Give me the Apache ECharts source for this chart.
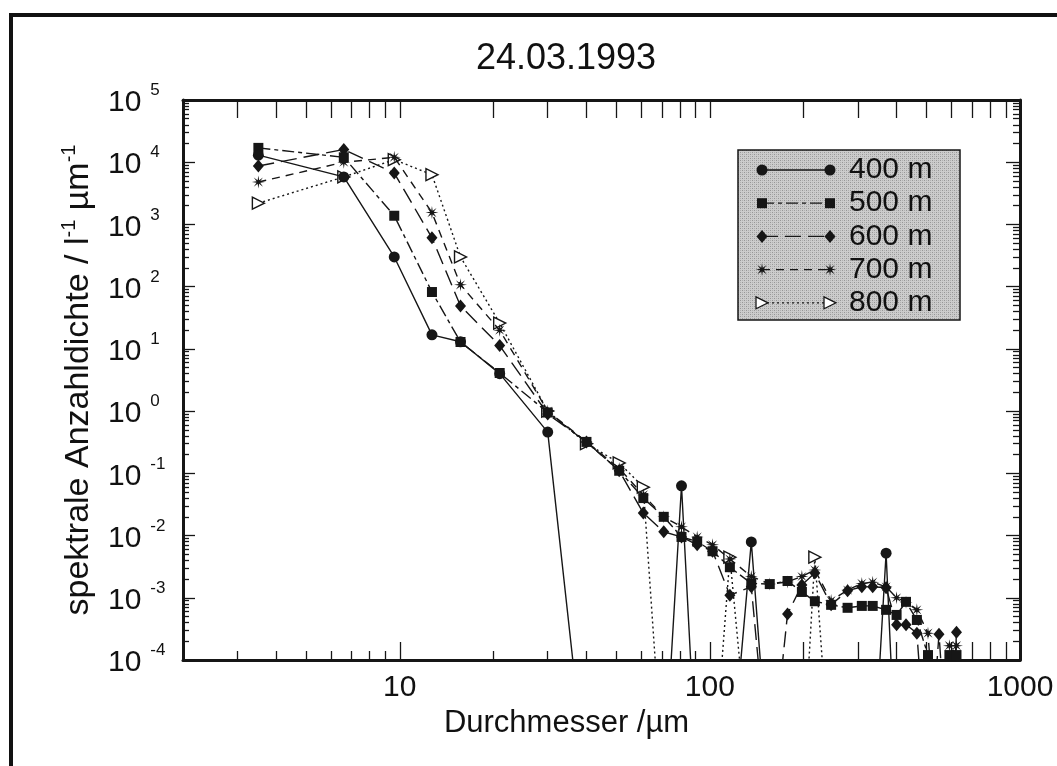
<!DOCTYPE html>
<html>
<head>
<meta charset="utf-8">
<script src="https://cdn.jsdelivr.net/npm/echarts@6/dist/echarts.min.js"></script>
<style>
  html, body { margin: 0; padding: 0; background: #ffffff; }
  #chart { width: 1057px; height: 766px; }
</style>
</head>
<body>
<div id="chart"></div>
<script>
// Particle diameter bins (µm)
const diameters = [3.5, 6.6, 9.6, 12.7, 15.7, 21, 30, 40, 51, 61, 71, 81, 91, 102, 116, 136,
                   156, 178, 198, 218, 246, 278, 309, 335, 370, 400, 429, 465, 505, 548, 592, 624];

// Spectral number density (l^-1 µm^-1) per flight level; 1e-6 marks empty bins
const n400 = [1.3e4, 5.8e3, 300, 16.8, 13, 4.0, 0.46, 1e-6, 1e-6, 1e-6, 1e-6, 0.063, 1e-6, 1e-6, 1e-6, 0.0079,
              1e-6, 1e-6, 1e-6, 1e-6, 1e-6, 1e-6, 1e-6, 1e-6, 0.0052, 1e-6, 1e-6, 1e-6, 1e-6, 1e-6, 1e-6, 1e-6];
const n500 = [1.7e4, 1.2e4, 1380, 82, 12.9, 4.1, 0.95, 0.32, 0.11, 0.040, 0.020, 0.0095, 0.0080, 0.0056, 0.0031, 0.0017,
              0.00166, 0.00186, 0.00124, 0.00088, 0.00077, 0.00069, 0.00074, 0.00074, 0.00064, 0.00053, 0.00086, 0.00044, 1.2e-4, 1e-6, 1.2e-4, 1.2e-4];
const n600 = [8.7e3, 1.6e4, 6.7e3, 610, 49, 11.3, 0.9, 0.32, 0.11, 0.023, 0.0115, 0.0095, 0.0071, 0.0056, 0.0011, 0.0015,
              1e-6, 0.00055, 0.0016, 0.0025, 0.00077, 0.0013, 0.0015, 0.0015, 0.00145, 0.00037, 0.00037, 0.00027, 1e-6, 0.00026, 1e-6, 0.00028];
const n700 = [4.8e3, 1.0e4, 1.2e4, 1.55e3, 107, 20, 1.0, 0.32, 0.12, 0.045, 0.020, 0.0138, 0.0095, 0.0071, 0.0042, 0.0022,
              0.00166, 0.0018, 0.0022, 0.0028, 0.0009, 0.00133, 0.0017, 0.00178, 0.0015, 0.0010, 0.00085, 0.00064, 0.00027, 1e-6, 0.00017, 0.00017];
const n800 = [2.2e3, 5.8e3, 1.1e4, 6.3e3, 300, 26, 1.0, 0.30, 0.147, 0.060, 1e-6, 1e-6, 1e-6, 1e-6, 0.0045, 1e-6,
              1e-6, 1e-6, 1e-6, 0.0045, 1e-6, 1e-6, 1e-6, 1e-6, 1e-6, 1e-6, 1e-6, 1e-6, 1e-6, 1e-6, 1e-6, 1e-6];

const seriesNames = ['400 m', '500 m', '600 m', '700 m', '800 m'];
const xTickLabels = [10, 100, 1000];
const yTickLabels = [1e-4, 1e-3, 1e-2, 1e-1, 1, 10, 100, 1e3, 1e4, 1e5];
const xMinorShort = [3, 4, 5, 6, 7, 8, 9, 20, 30, 40, 50, 60, 70, 80, 90];
const xMinorLong = [200, 300, 400, 500, 600, 700, 800, 900];
const xTopTicks = [3, 4, 5, 6, 7, 8, 9, 10, 20, 30, 40, 50, 60, 70, 80, 90, 100,
                   200, 300, 400, 500, 600, 700, 800, 900];
const yMinorTicks = [];
for (let e = -4; e < 5; e++) {
  for (let m = 2; m <= 9; m++) yMinorTicks.push(Number((m * Math.pow(10, e)).toPrecision(3)));
}

const INK = '#161616';
const FONT = '"Liberation Sans", Arial, Helvetica, sans-serif';

// 8-pointed asterisk-like star
const STAR = 'path://M10,0 L2.77,1.15 L7.07,7.07 L1.15,2.77 L0,10 L-1.15,2.77 L-7.07,7.07 L-2.77,1.15 ' +
             'L-10,0 L-2.77,-1.15 L-7.07,-7.07 L-1.15,-2.77 L0,-10 L1.15,-2.77 L7.07,-7.07 L2.77,-1.15 Z';
const TRI = 'path://M0,0 L12,6 L0,12 Z';

const styles = [
  { data: n400, symbol: 'circle',  size: 11, dash: 'solid' },
  { data: n500, symbol: 'rect',    size: 10, dash: [12, 4, 4, 4] },
  { data: n600, symbol: 'diamond', size: [11, 13], dash: [16, 7] },
  { data: n700, symbol: STAR,      size: 13, dash: [8, 6] },
  { data: n800, symbol: TRI,       size: 12, dash: [2, 3], hollow: true }
];

const series = styles.map((s, k) => ({
  name: seriesNames[k],
  type: 'line',
  xAxisIndex: 0,
  yAxisIndex: 0,
  clip: true,
  data: diameters.map((d, i) => [d, s.data[i]]),
  symbol: s.symbol,
  symbolSize: s.size,
  showAllSymbol: true,
  lineStyle: { color: INK, width: 1.4, type: s.dash },
  itemStyle: s.hollow ? { color: '#ffffff', borderColor: INK, borderWidth: 1.4 } : { color: INK, borderWidth: 0 },
  emphasis: { disabled: true },
  animation: false,
  z: 5 - k
}));

function logAxis(kind, extra) {
  const base = {
    type: 'log',
    logBase: 10,
    min: kind === 'x' ? 2 : 1e-4,
    max: kind === 'x' ? 1000 : 1e5,
    splitLine: { show: false },
    axisLabel: { show: false },
    axisLine: { show: false },
    axisTick: { show: false }
  };
  return Object.assign(base, extra);
}

const tick = (values, len) => ({
  show: true, inside: true, length: len, customValues: values,
  lineStyle: { color: INK, width: 1.3 }
});

const xAxes = [
  logAxis('x', {
    position: 'bottom',
    axisLine: { show: true, onZero: false, lineStyle: { color: INK, width: 3 } },
    axisTick: tick(xTickLabels.concat(xMinorLong), 18),
    axisLabel: {
      show: true, customValues: xTickLabels, margin: 13,
      formatter: v => String(v),
      color: '#111', fontSize: 30, fontFamily: FONT
    },
    name: 'Durchmesser /µm',
    nameLocation: 'middle',
    nameGap: 34,
    nameTextStyle: { color: '#111', fontSize: 31, fontFamily: FONT, padding: [0, 70, 0, 0] }
  }),
  logAxis('x', { position: 'bottom', axisTick: tick(xMinorShort, 9) }),
  logAxis('x', {
    position: 'top',
    axisLine: { show: true, onZero: false, lineStyle: { color: INK, width: 3 } },
    axisTick: tick(xTopTicks, 18)
  })
];

const yAxes = [
  logAxis('y', {
    position: 'left',
    axisLine: { show: true, onZero: false, lineStyle: { color: INK, width: 3 } },
    axisTick: tick(yTickLabels, 12),
    axisLabel: {
      show: true, customValues: yTickLabels, margin: 75, align: 'left',
      formatter: v => '{b|10}{e|' + Math.round(Math.log10(v)) + '}',
      rich: {
        b: { fontSize: 30, fontFamily: FONT, color: '#111', verticalAlign: 'bottom', lineHeight: 36 },
        e: { fontSize: 17, fontFamily: FONT, color: '#111', verticalAlign: 'top', padding: [0, 0, 0, 9], lineHeight: 36 }
      }
    },
    name: 'spektrale Anzahldichte / l{s|-1} µm{s|-1}',
    nameLocation: 'middle',
    nameRotate: 90,
    nameGap: 84,
    nameTextStyle: {
      color: '#111', fontSize: 34, fontFamily: FONT,
      rich: { s: { fontSize: 20, fontFamily: FONT, color: '#111', verticalAlign: 'top', lineHeight: 40 } }
    }
  }),
  logAxis('y', { position: 'left', axisTick: tick(yMinorTicks, 6) }),
  logAxis('y', {
    position: 'right',
    axisLine: { show: true, onZero: false, lineStyle: { color: INK, width: 3 } },
    axisTick: tick(yTickLabels, 14)
  }),
  logAxis('y', { position: 'right', axisTick: tick(yMinorTicks, 7) })
];

// Stippled grey fill for the legend box
function stipple() {
  const c = document.createElement('canvas');
  c.width = 4; c.height = 4;
  const g = c.getContext('2d');
  g.fillStyle = '#cccccc'; g.fillRect(0, 0, 4, 4);
  g.fillStyle = '#969696';
  g.fillRect(0, 0, 1, 1); g.fillRect(2, 2, 1, 1);
  g.fillStyle = '#b0b0b0';
  g.fillRect(2, 0, 1, 1); g.fillRect(0, 2, 1, 1);
  return c;
}

// Legend: sample line with a marker at each end, then the label
function markerShape(k, cx, cy) {
  const fill = { fill: INK };
  if (k === 0) return { type: 'circle', shape: { cx, cy, r: 5.5 }, style: fill };
  if (k === 1) return { type: 'rect', shape: { x: cx - 5, y: cy - 5, width: 10, height: 10 }, style: fill };
  if (k === 2) return { type: 'polygon', shape: { points: [[cx, cy - 6.5], [cx + 5.5, cy], [cx, cy + 6.5], [cx - 5.5, cy]] }, style: fill };
  if (k === 3) {
    const pts = [];
    for (let j = 0; j < 16; j++) {
      const r = j % 2 === 0 ? 6.5 : 2;
      const a = j * Math.PI / 8;
      pts.push([cx + r * Math.cos(a), cy + r * Math.sin(a)]);
    }
    return { type: 'polygon', shape: { points: pts }, style: fill };
  }
  return { type: 'polygon', shape: { points: [[cx - 6, cy - 6], [cx + 6, cy], [cx - 6, cy + 6]] },
           style: { fill: '#ffffff', stroke: INK, lineWidth: 1.3 } };
}

const legendBox = { x: 738, y: 150, w: 222, h: 170 };
const legendItems = [];
seriesNames.forEach((name, k) => {
  const y = 170 + k * 33.2;
  const dash = styles[k].dash;
  legendItems.push({
    type: 'line', shape: { x1: 762, y1: y, x2: 830, y2: y },
    style: { stroke: INK, lineWidth: 1.3, lineDash: dash === 'solid' ? null : dash }
  });
  legendItems.push(markerShape(k, 762, y));
  legendItems.push(markerShape(k, 830, y));
  legendItems.push({
    type: 'text', x: 849, y: y,
    style: { text: name, fill: '#111', font: '30px ' + FONT, verticalAlign: 'middle' }
  });
});

const chart = echarts.init(document.getElementById('chart'), null, { renderer: 'canvas' });
chart.setOption({
  backgroundColor: '#ffffff',
  animation: false,
  title: {
    text: '24.03.1993',
    left: 561,
    top: 36,
    textAlign: 'center',
    textStyle: { color: '#111', fontSize: 36, fontWeight: 'normal', fontFamily: FONT }
  },
  grid: { left: 183, top: 100, right: 37, bottom: 106, containLabel: false, outerBoundsMode: 'none' },
  xAxis: xAxes,
  yAxis: yAxes,
  series: series,
  graphic: [
    {
      type: 'rect', silent: true, z: 100,
      shape: { x: 11, y: 15, width: 1200, height: 900 },
      style: { fill: 'transparent', stroke: '#111', lineWidth: 4 }
    },
    {
      type: 'rect', silent: true, z: 90,
      shape: { x: legendBox.x, y: legendBox.y, width: legendBox.w, height: legendBox.h },
      style: { fill: { image: stipple(), repeat: 'repeat' }, stroke: INK, lineWidth: 1.5 }
    },
    { type: 'group', z: 95, children: legendItems.map(it => Object.assign({ z: 95 }, it)) }
  ]
});
</script>
</body>
</html>
